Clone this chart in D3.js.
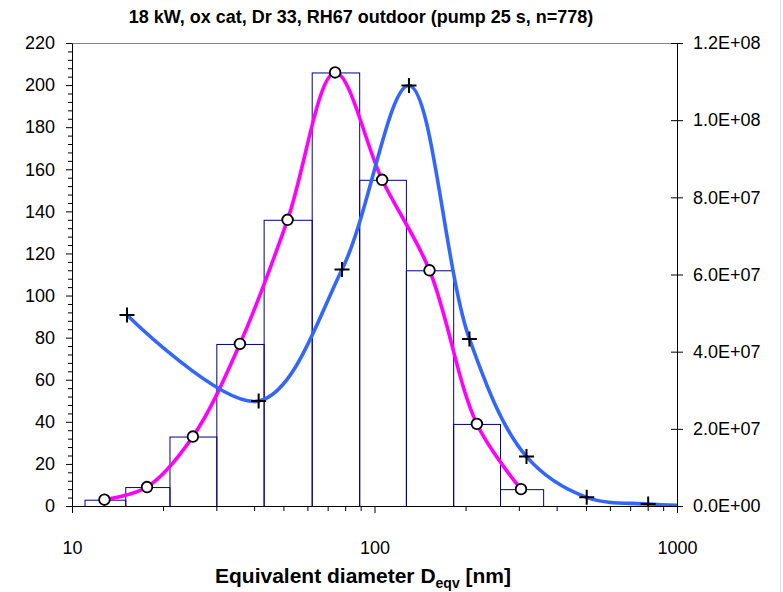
<!DOCTYPE html>
<html>
<head>
<meta charset="utf-8">
<script src="https://cdn.jsdelivr.net/npm/d3@7"></script>
<style>
  body { margin: 0; background: #fff; }
  svg text { font-family: "Liberation Sans", Arial, sans-serif; fill: #000; }
</style>
</head>
<body>
<div id="chart"></div>
<script>
// Dữ liệu
const binEdges = [11, 15, 21, 30, 43, 62, 89, 127, 182, 260, 361];
const binCounts = [3, 9, 33, 77, 136, 206, 155, 112, 39, 8];
const countDiam = [12.8, 17.7, 25.1, 35.9, 51.6, 74.1, 106, 152, 218, 305];
const numDiam = [15.2, 41.4, 78.1, 130, 206, 318, 503, 803, 1300];
const numConc = [4.95e7, 2.72e7, 6.13e7, 1.09e8, 4.33e7, 1.28e7, 2.25e6, 5e5, 0];
const leftTicks = [0, 20, 40, 60, 80, 100, 120, 140, 160, 180, 200, 220];
const rightTicks = [0, 2e7, 4e7, 6e7, 8e7, 1e8, 1.2e8];
const xTicks = [10, 100, 1000];

const W = 783, H = 592;
const plot = { left: 72, right: 677, top: 43, bottom: 506 };

const svg = d3.select("#chart").append("svg")
    .attr("width", W).attr("height", H);

const x = d3.scaleLog().domain([10, 1000]).range([plot.left, plot.right]);
const yL = d3.scaleLinear().domain([0, 220]).range([plot.bottom, plot.top]);
const yR = d3.scaleLinear().domain([0, 1.2e8]).range([plot.bottom, plot.top]);

svg.append("defs").append("clipPath").attr("id", "clip")
    .append("rect")
    .attr("x", plot.left).attr("y", plot.top - 10)
    .attr("width", plot.right - plot.left).attr("height", plot.bottom - plot.top + 10);

// khung trên màu xám
svg.append("line")
    .attr("x1", plot.left).attr("x2", plot.right)
    .attr("y1", plot.top + 0.5).attr("y2", plot.top + 0.5)
    .attr("stroke", "#808080").attr("stroke-width", 1);

// Histogram
const bins = binCounts.map((c, i) => ({ x0: binEdges[i], x1: binEdges[i + 1], c }));
svg.append("g").selectAll("rect").data(bins).enter().append("rect")
    .attr("x", d => x(d.x0) + 0.5)
    .attr("y", d => yL(d.c) + 0.5)
    .attr("width", d => x(d.x1) - x(d.x0))
    .attr("height", d => yL(0) - yL(d.c))
    .attr("fill", "none")
    .attr("stroke", "#000080")
    .attr("stroke-width", 1);

// Đường cong
const plotArea = svg.append("g").attr("clip-path", "url(#clip)");

const countPts = countDiam.map((d, i) => [d, binCounts[i]]);
const numPts = numDiam.map((d, i) => [d, numConc[i]]);

plotArea.append("path")
    .datum(countPts)
    .attr("fill", "none")
    .attr("stroke", "#ff00ff")
    .attr("stroke-width", 3.6)
    .attr("d", d3.line().x(d => x(d[0])).y(d => yL(d[1])).curve(d3.curveCatmullRom.alpha(0.5)));

plotArea.append("path")
    .datum(numPts)
    .attr("fill", "none")
    .attr("stroke", "#3366ff")
    .attr("stroke-width", 3.6)
    .attr("d", d3.line().x(d => x(d[0])).y(d => yR(d[1])).curve(d3.curveCatmullRom.alpha(0.5)));

// Marker tròn
plotArea.selectAll(".circ").data(countPts).enter().append("circle")
    .attr("class", "circ")
    .attr("cx", d => x(d[0])).attr("cy", d => yL(d[1]))
    .attr("r", 5.3)
    .attr("fill", "#fff").attr("stroke", "#000").attr("stroke-width", 1.8);

// Marker dấu cộng
const cross = plotArea.selectAll(".cross").data(numPts).enter().append("g")
    .attr("class", "cross")
    .attr("transform", d => `translate(${x(d[0])},${yR(d[1])})`);
cross.append("path")
    .attr("d", "M-7.5,0H7.5M0,-7.5V7.5")
    .attr("stroke", "#000").attr("stroke-width", 2);

// Trục trái
const leftMinor = d3.range(0, 221, 4).filter(v => v % 20 !== 0);
svg.append("g").attr("transform", `translate(${plot.left},0)`)
    .call(d3.axisLeft(yL).tickValues(leftMinor).tickSize(4).tickFormat(""))
    .call(g => g.select(".domain").remove());
const gL = svg.append("g").attr("transform", `translate(${plot.left},0)`)
    .call(d3.axisLeft(yL).tickValues(leftTicks).tickSize(6).tickSizeOuter(0).tickPadding(11));
gL.selectAll("text").style("font-size", "18px");

// Trục phải (vạch cắt qua trục)
svg.append("g").attr("transform", `translate(${plot.right},0)`)
    .call(d3.axisLeft(yR).tickValues(rightTicks).tickSize(6).tickFormat(""))
    .call(g => g.select(".domain").remove());
const gR = svg.append("g").attr("transform", `translate(${plot.right},0)`)
    .call(d3.axisRight(yR).tickValues(rightTicks).tickSize(6).tickSizeOuter(0).tickPadding(10)
        .tickFormat(d => d3.format(".1e")(d).replace("e", "E").replace(/E([+-])(\d)$/, "E$10$2")));
gR.selectAll("text").style("font-size", "18px");

// Trục dưới (log)
const xMinor = [20, 30, 40, 50, 60, 70, 80, 90, 200, 300, 400, 500, 600, 700, 800, 900];
svg.append("g").attr("transform", `translate(0,${plot.bottom})`)
    .call(d3.axisBottom(x).tickValues(xMinor).tickSize(5).tickFormat(""))
    .call(g => g.select(".domain").remove());
const gX = svg.append("g").attr("transform", `translate(0,${plot.bottom})`)
    .call(d3.axisBottom(x).tickValues(xTicks).tickSize(7).tickSizeOuter(0).tickPadding(28)
        .tickFormat(d3.format("d")));
gX.selectAll("text").style("font-size", "18px");

svg.selectAll(".domain").attr("stroke", "#000");
svg.selectAll(".tick line").attr("stroke", "#000");

// Tiêu đề
svg.append("text")
    .attr("x", 361).attr("y", 23)
    .attr("text-anchor", "middle")
    .style("font-size", "18px").style("font-weight", "bold")
    .text("18 kW, ox cat, Dr 33, RH67 outdoor (pump 25 s, n=778)");

// Nhãn trục x
const xl = svg.append("text")
    .attr("x", 363).attr("y", 583)
    .attr("text-anchor", "middle")
    .style("font-size", "21px").style("font-weight", "bold");
xl.append("tspan").text("Equivalent diameter D");
xl.append("tspan").attr("dy", 5).style("font-size", "14px").text("eqv");
xl.append("tspan").attr("dy", -5).text(" [nm]");

// viền phải ảnh
svg.append("line")
    .attr("x1", 780.5).attr("x2", 780.5).attr("y1", 0).attr("y2", H)
    .attr("stroke", "#d6e2f2").attr("stroke-width", 1);
</script>
</body>
</html>
